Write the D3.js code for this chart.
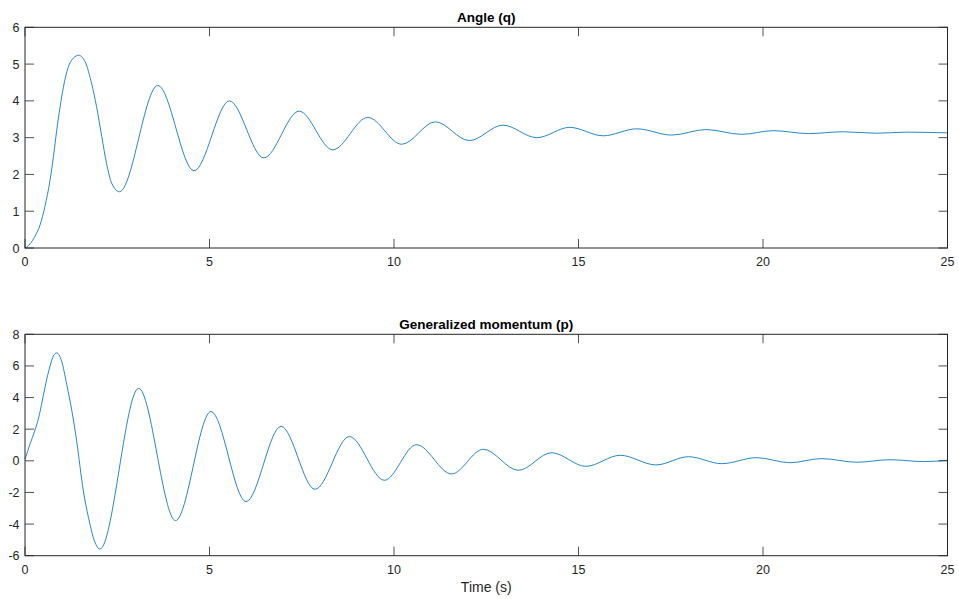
<!DOCTYPE html>
<html>
<head>
<meta charset="utf-8">
<script src="https://cdn.jsdelivr.net/npm/d3@7"></script>
<style>
  body { margin: 0; background: #fff; }
  svg { display: block; font-family: "Liberation Sans", Arial, Helvetica, sans-serif; }
</style>
</head>
<body>
<script>
// values (dense samples at the start, then peaks and troughs)
const timeQ = [0, 0.135, 0.27, 0.41, 0.54, 0.68, 0.77, 0.86, 0.95, 1.04, 1.17, 1.31, 1.455, 1.63, 1.81,
  1.94, 2.08, 2.21, 2.35, 2.56, 3.60, 4.58, 5.54, 6.47, 7.43, 8.34, 9.29, 10.21, 11.12, 12.04, 12.95, 13.87,
  14.76, 15.67, 16.58, 17.52, 18.46, 19.42, 20.28, 21.23, 22.18, 23.08, 23.89, 25];
const angleQ = [0, 0.11, 0.32, 0.63, 1.13, 1.85, 2.48, 3.20, 3.83, 4.37, 4.91, 5.16, 5.24, 5.06, 4.45,
  3.84, 3.03, 2.30, 1.76, 1.53, 4.42, 2.10, 4.00, 2.45, 3.72, 2.67, 3.55, 2.82, 3.43, 2.92, 3.34, 3.00,
  3.28, 3.05, 3.24, 3.07, 3.22, 3.09, 3.19, 3.11, 3.16, 3.12, 3.15, 3.13];

const timeP = [0, 0.135, 0.27, 0.36, 0.45, 0.54, 0.68, 0.77, 0.86, 0.99, 1.13, 1.27, 1.40, 1.58, 1.72, 1.85,
  2.03, 3.08, 4.08, 5.04, 5.99, 6.94, 7.86, 8.79, 9.74, 10.61, 11.56, 12.42, 13.37, 14.27, 15.20, 16.13,
  17.10, 17.98, 18.88, 19.83, 20.73, 21.59, 22.54, 23.44, 24.35, 25];
const momentumP = [0.1, 1.05, 1.94, 2.63, 3.58, 4.63, 6.0, 6.63, 6.82, 6.32, 4.84, 3.16, 1.26, -1.89, -3.58, -4.84,
  -5.58, 4.58, -3.78, 3.12, -2.58, 2.18, -1.80, 1.53, -1.23, 1.02, -0.83, 0.73, -0.60, 0.51, -0.35, 0.35,
  -0.26, 0.26, -0.18, 0.20, -0.12, 0.14, -0.09, 0.07, -0.05, 0.03];

const xTicks = [0, 5, 10, 15, 20, 25];
const qTicks = [0, 1, 2, 3, 4, 5, 6];
const pTicks = [-6, -4, -2, 0, 2, 4, 6, 8];

const width = 959, height = 599;
const axisColor = "#262626";
const lineColor = "#0072BD";
const tickLen = 9;

const svg = d3.select("body").append("svg")
  .attr("width", width)
  .attr("height", height);

const x = d3.scaleLinear().domain([0, 25]).range([25, 947.5]);

function panel(top, bottom, yDomain, yTicks, times, values, title, xlabel) {
  const y = d3.scaleLinear().domain(yDomain).range([bottom, top]);
  const g = svg.append("g");

  // data line
  const line = d3.line()
    .x(d => x(d[0]))
    .y(d => y(d[1]))
    .curve(d3.curveMonotoneX);
  g.append("path")
    .datum(times.map((t, i) => [t, values[i]]))
    .attr("fill", "none")
    .attr("stroke", lineColor)
    .attr("stroke-width", 0.85)
    .attr("d", line);

  // inward ticks on all four sides
  const tg = g.append("g").attr("stroke", axisColor).attr("stroke-width", 0.8);
  xTicks.forEach(t => {
    tg.append("line").attr("x1", x(t)).attr("x2", x(t)).attr("y1", bottom).attr("y2", bottom - tickLen);
    tg.append("line").attr("x1", x(t)).attr("x2", x(t)).attr("y1", top).attr("y2", top + tickLen);
  });
  yTicks.forEach(t => {
    tg.append("line").attr("x1", x(0)).attr("x2", x(0) + tickLen).attr("y1", y(t)).attr("y2", y(t));
    tg.append("line").attr("x1", x(25)).attr("x2", x(25) - tickLen).attr("y1", y(t)).attr("y2", y(t));
  });

  // box
  g.append("rect")
    .attr("x", x(0)).attr("y", top)
    .attr("width", x(25) - x(0)).attr("height", bottom - top)
    .attr("fill", "none")
    .attr("stroke", axisColor)
    .attr("stroke-width", 1);

  // tick labels
  g.append("g").selectAll("text")
    .data(xTicks)
    .join("text")
    .attr("x", d => x(d))
    .attr("y", bottom + 18)
    .attr("text-anchor", "middle")
    .attr("font-size", 12.5)
    .attr("fill", axisColor)
    .text(d => d);

  g.append("g").selectAll("text")
    .data(yTicks)
    .join("text")
    .attr("x", 19.5)
    .attr("y", d => y(d))
    .attr("dy", "0.36em")
    .attr("text-anchor", "end")
    .attr("font-size", 12.5)
    .attr("fill", axisColor)
    .text(d => d);

  g.append("text")
    .attr("x", (x(0) + x(25)) / 2)
    .attr("y", top - 5)
    .attr("text-anchor", "middle")
    .attr("font-size", 13.5)
    .attr("font-weight", "bold")
    .attr("fill", "#000")
    .text(title);

  if (xlabel) {
    g.append("text")
      .attr("x", (x(0) + x(25)) / 2)
      .attr("y", bottom + 36)
      .attr("text-anchor", "middle")
      .attr("font-size", 14)
      .attr("fill", axisColor)
      .text(xlabel);
  }
}

panel(27.3, 248, [0, 6], qTicks, timeQ, angleQ, "Angle (q)");
panel(334.3, 555.7, [-6, 8], pTicks, timeP, momentumP, "Generalized momentum (p)", "Time (s)");
</script>
</body>
</html>
